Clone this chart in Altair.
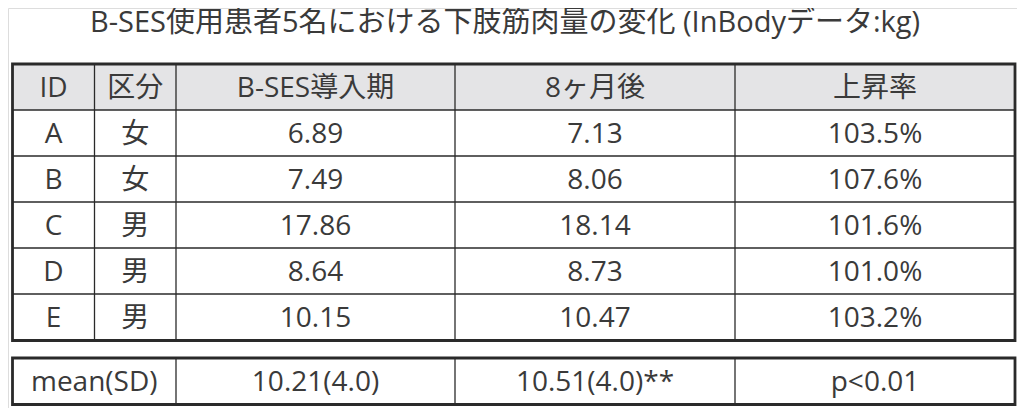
import altair as alt
import pandas as pd

# ---- data ----
title_text = "B-SES使用患者5名における下肢筋肉量の変化 (InBodyデータ:kg)"
headers = ["ID", "区分", "B-SES導入期", "8ヶ月後", "上昇率"]
ids = ["A", "B", "C", "D", "E"]
sex = ["女", "女", "男", "男", "男"]
before_kg = [6.89, 7.49, 17.86, 8.64, 10.15]
after_kg = [7.13, 8.06, 18.14, 8.73, 10.47]
rise_pct = [103.5, 107.6, 101.6, 101.0, 103.2]
summary = ["mean(SD)", "10.21(4.0)", "10.51(4.0)**", "p<0.01"]

# ---- layout (page pixels, minus 8px page margin) ----
OFF = 8
W, H = 1009, 400
col_edges = [e - OFF for e in [12.5, 94.5, 176, 455, 735, 1015]]
row_edges = [e - OFF for e in [64, 110, 156, 202, 248, 294, 340.5]]
sum_edges = [e - OFF for e in [358, 404.5]]
sum_cols = [col_edges[0], col_edges[2], col_edges[3], col_edges[4], col_edges[5]]
TEXT = "#3a3a3a"
LINE = "#2a2a2a"
FONT = "'Open Sans', 'Noto Sans CJK JP'"

rows = [headers] + [
    [i, s, f"{b:.2f}", f"{a:.2f}", f"{r:.1f}%"]
    for i, s, b, a, r in zip(ids, sex, before_kg, after_kg, rise_pct)
]

cells = []
for r, row in enumerate(rows):
    yc = (row_edges[r] + row_edges[r + 1]) / 2
    for c, txt in enumerate(row):
        xc = (col_edges[c] + col_edges[c + 1]) / 2
        cells.append({"t": txt, "x": xc, "y": yc})
yc = (sum_edges[0] + sum_edges[1]) / 2
for c, txt in enumerate(summary):
    cells.append({"t": txt, "x": (sum_cols[c] + sum_cols[c + 1]) / 2, "y": yc})
cells_df = pd.DataFrame(cells)

thin = []
for e in col_edges[1:-1]:
    thin.append({"x": e, "x2": e, "y": row_edges[0], "y2": row_edges[-1]})
for e in row_edges[1:-1]:
    thin.append({"x": col_edges[0], "x2": col_edges[-1], "y": e, "y2": e})
for e in sum_cols[1:-1]:
    thin.append({"x": e, "x2": e, "y": sum_edges[0], "y2": sum_edges[1]})
thin_df = pd.DataFrame(thin)

boxes_df = pd.DataFrame([
    {"x": col_edges[0], "x2": col_edges[-1], "y": row_edges[0], "y2": row_edges[-1]},
    {"x": col_edges[0], "x2": col_edges[-1], "y": sum_edges[0], "y2": sum_edges[1]},
])
header_df = pd.DataFrame([
    {"x": col_edges[0], "x2": col_edges[-1], "y": row_edges[0], "y2": row_edges[1]}
])
title_df = pd.DataFrame([{"t": title_text, "x": 505 - OFF, "y": 23 - OFF}])

xs = alt.Scale(domain=[0, W], nice=False, zero=False)
ys = alt.Scale(domain=[0, H], nice=False, zero=False, reverse=True)

def X(f="x"):
    return alt.X(f"{f}:Q", scale=xs, axis=None)

def Y(f="y"):
    return alt.Y(f"{f}:Q", scale=ys, axis=None)

header = alt.Chart(header_df).mark_rect(fill="#e4e4e6", strokeWidth=0).encode(
    x=X(), x2="x2", y=Y(), y2="y2")
thin_lines = alt.Chart(thin_df).mark_rule(color=LINE, strokeWidth=1.3).encode(
    x=X(), x2="x2", y=Y(), y2="y2")
boxes = alt.Chart(boxes_df).mark_rect(filled=False, stroke=LINE, strokeWidth=2.8).encode(
    x=X(), x2="x2", y=Y(), y2="y2")
texts = alt.Chart(cells_df).mark_text(
    font=FONT, fontSize=28, color=TEXT, baseline="middle", align="center", dy=2
).encode(x=X(), y=Y(), text="t:N")
title = alt.Chart(title_df).mark_text(
    font=FONT, fontSize=29, color=TEXT, baseline="middle", align="center"
).encode(x=X(), y=Y(), text="t:N")

chart = alt.layer(header, thin_lines, boxes, texts, title).properties(
    width=W, height=H, padding=0, autosize=alt.AutoSizeParams(type="none")
).configure_view(stroke=None).configure(background="white")

chart.save("out.html", embed_options={"renderer": "svg", "actions": False})
